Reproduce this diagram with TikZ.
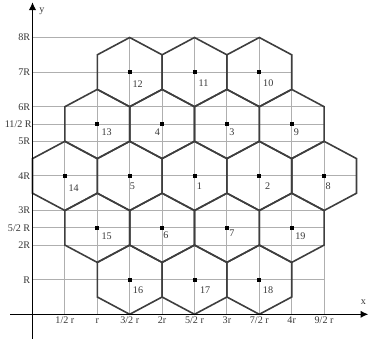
\documentclass[tikz,border=0pt]{standalone}
\usepackage{fontspec}
\setmainfont{Liberation Serif}
\usetikzlibrary{arrows.meta}

\begin{document}
\begin{tikzpicture}[x=0.75pt,y=0.75pt,yscale=-1,xscale=1,
  gridline/.style={color={rgb, 255:red, 175; green, 175; blue, 175 },line width=0.65},
  hexline/.style={color={rgb, 255:red, 62; green, 62; blue, 62 },line width=1.2},
  axisline/.style={color=black,line width=1.2,-{Latex[length=6pt,width=5.6pt]}},
  celldot/.style={rectangle,fill=black,inner sep=0pt,minimum size=3pt},
  celltxt/.style={inner sep=0pt,text height=5pt,text depth=0pt,font=\fontsize{7.6}{9}\selectfont,text={rgb, 255:red, 55; green, 55; blue, 55 }},
  ticktxt/.style={celltxt,anchor=north},
  rtxt/.style={celltxt,anchor=east}]
\useasboundingbox (0,0) rectangle (370,343);

%Grid Lines: horizontal
\draw [gridline] (32.5,37.5) -- (259.3,37.5) ;
\draw [gridline] (32.5,72.1) -- (291.7,72.1) ;
\draw [gridline] (32.5,106.7) -- (324.1,106.7) ;
\draw [gridline] (32.5,124.0) -- (324.1,124.0) ;
\draw [gridline] (32.5,141.3) -- (324.1,141.3) ;
\draw [gridline] (32.5,175.9) -- (356.5,175.9) ;
\draw [gridline] (32.5,210.5) -- (324.1,210.5) ;
\draw [gridline] (32.5,227.8) -- (324.1,227.8) ;
\draw [gridline] (32.5,245.1) -- (324.1,245.1) ;
\draw [gridline] (32.5,279.7) -- (324.1,279.7) ;
%Grid Lines: vertical
\draw [gridline] (64.9,314.3) -- (64.9,106.7) ;
\draw [gridline] (97.3,314.3) -- (97.3,54.8) ;
\draw [gridline] (129.7,314.3) -- (129.7,37.5) ;
\draw [gridline] (162.1,314.3) -- (162.1,54.8) ;
\draw [gridline] (194.5,314.3) -- (194.5,37.5) ;
\draw [gridline] (226.9,314.3) -- (226.9,54.8) ;
\draw [gridline] (259.3,314.3) -- (259.3,37.5) ;
\draw [gridline] (291.7,314.3) -- (291.7,54.8) ;
\draw [gridline] (324.1,314.3) -- (324.1,106.7) ;

%Shape: Hexagon 12
\draw [hexline] (129.7,37.5) -- (162.1,54.8) -- (162.1,89.4) -- (129.7,106.7) -- (97.3,89.4) -- (97.3,54.8) -- cycle ;
%Shape: Hexagon 11
\draw [hexline] (194.5,37.5) -- (226.9,54.8) -- (226.9,89.4) -- (194.5,106.7) -- (162.1,89.4) -- (162.1,54.8) -- cycle ;
%Shape: Hexagon 10
\draw [hexline] (259.3,37.5) -- (291.7,54.8) -- (291.7,89.4) -- (259.3,106.7) -- (226.9,89.4) -- (226.9,54.8) -- cycle ;
%Shape: Hexagon 13
\draw [hexline] (97.3,89.4) -- (129.7,106.7) -- (129.7,141.3) -- (97.3,158.6) -- (64.9,141.3) -- (64.9,106.7) -- cycle ;
%Shape: Hexagon 4
\draw [hexline] (162.1,89.4) -- (194.5,106.7) -- (194.5,141.3) -- (162.1,158.6) -- (129.7,141.3) -- (129.7,106.7) -- cycle ;
%Shape: Hexagon 3
\draw [hexline] (226.9,89.4) -- (259.3,106.7) -- (259.3,141.3) -- (226.9,158.6) -- (194.5,141.3) -- (194.5,106.7) -- cycle ;
%Shape: Hexagon 9
\draw [hexline] (291.7,89.4) -- (324.1,106.7) -- (324.1,141.3) -- (291.7,158.6) -- (259.3,141.3) -- (259.3,106.7) -- cycle ;
%Shape: Hexagon 14
\draw [hexline] (64.9,141.3) -- (97.3,158.6) -- (97.3,193.2) -- (64.9,210.5) -- (32.5,193.2) -- (32.5,158.6) -- cycle ;
%Shape: Hexagon 5
\draw [hexline] (129.7,141.3) -- (162.1,158.6) -- (162.1,193.2) -- (129.7,210.5) -- (97.3,193.2) -- (97.3,158.6) -- cycle ;
%Shape: Hexagon 1
\draw [hexline] (194.5,141.3) -- (226.9,158.6) -- (226.9,193.2) -- (194.5,210.5) -- (162.1,193.2) -- (162.1,158.6) -- cycle ;
%Shape: Hexagon 2
\draw [hexline] (259.3,141.3) -- (291.7,158.6) -- (291.7,193.2) -- (259.3,210.5) -- (226.9,193.2) -- (226.9,158.6) -- cycle ;
%Shape: Hexagon 8
\draw [hexline] (324.1,141.3) -- (356.5,158.6) -- (356.5,193.2) -- (324.1,210.5) -- (291.7,193.2) -- (291.7,158.6) -- cycle ;
%Shape: Hexagon 15
\draw [hexline] (97.3,193.2) -- (129.7,210.5) -- (129.7,245.1) -- (97.3,262.4) -- (64.9,245.1) -- (64.9,210.5) -- cycle ;
%Shape: Hexagon 6
\draw [hexline] (162.1,193.2) -- (194.5,210.5) -- (194.5,245.1) -- (162.1,262.4) -- (129.7,245.1) -- (129.7,210.5) -- cycle ;
%Shape: Hexagon 7
\draw [hexline] (226.9,193.2) -- (259.3,210.5) -- (259.3,245.1) -- (226.9,262.4) -- (194.5,245.1) -- (194.5,210.5) -- cycle ;
%Shape: Hexagon 19
\draw [hexline] (291.7,193.2) -- (324.1,210.5) -- (324.1,245.1) -- (291.7,262.4) -- (259.3,245.1) -- (259.3,210.5) -- cycle ;
%Shape: Hexagon 16
\draw [hexline] (129.7,245.1) -- (162.1,262.4) -- (162.1,297.0) -- (129.7,314.3) -- (97.3,297.0) -- (97.3,262.4) -- cycle ;
%Shape: Hexagon 17
\draw [hexline] (194.5,245.1) -- (226.9,262.4) -- (226.9,297.0) -- (194.5,314.3) -- (162.1,297.0) -- (162.1,262.4) -- cycle ;
%Shape: Hexagon 18
\draw [hexline] (259.3,245.1) -- (291.7,262.4) -- (291.7,297.0) -- (259.3,314.3) -- (226.9,297.0) -- (226.9,262.4) -- cycle ;

%Axes
\coordinate (ybot) at (32.5,338.5) ;
\coordinate (ytop) at (32.5,2) ;
\coordinate (xleft) at (10,314.3) ;
\coordinate (xright) at (368.5,314.3) ;
\draw [axisline] (ybot) -- (ytop) ;
\draw [axisline] (xleft) -- (xright) ;
% Text Node
\node (ylab) [celltxt] at (42,9.5) {y} ;
% Text Node
\node (xlab) [celltxt] at (363.5,301.5) {x} ;

%Cell Centres
\node (c12) [celldot] at (129.7,72.1) {} ;
\node (c11) [celldot] at (194.5,72.1) {} ;
\node (c10) [celldot] at (259.3,72.1) {} ;
\node (c13) [celldot] at (97.3,124.0) {} ;
\node (c4) [celldot] at (162.1,124.0) {} ;
\node (c3) [celldot] at (226.9,124.0) {} ;
\node (c9) [celldot] at (291.7,124.0) {} ;
\node (c14) [celldot] at (64.9,175.9) {} ;
\node (c5) [celldot] at (129.7,175.9) {} ;
\node (c1) [celldot] at (194.5,175.9) {} ;
\node (c2) [celldot] at (259.3,175.9) {} ;
\node (c8) [celldot] at (324.1,175.9) {} ;
\node (c15) [celldot] at (97.3,227.8) {} ;
\node (c6) [celldot] at (162.1,227.8) {} ;
\node (c7) [celldot] at (226.9,227.8) {} ;
\node (c19) [celldot] at (291.7,227.8) {} ;
\node (c16) [celldot] at (129.7,279.7) {} ;
\node (c17) [celldot] at (194.5,279.7) {} ;
\node (c18) [celldot] at (259.3,279.7) {} ;

% Text Node: cell numbers
\node (n12) [celltxt] at (137.7,84.1) {12} ;
\node (n11) [celltxt] at (203.5,83.1) {11} ;
\node (n10) [celltxt] at (268.3,83.1) {10} ;
\node (n13) [celltxt] at (106.7,132.3) {13} ;
\node (n4) [celltxt] at (157.4,132.3) {4} ;
\node (n3) [celltxt] at (231.9,132.3) {3} ;
\node (n9) [celltxt] at (296.4,131.7) {9} ;
\node (n14) [celltxt] at (73.6,188.5) {14} ;
\node (n5) [celltxt] at (132.4,185.9) {5} ;
\node (n1) [celltxt] at (199.5,185.9) {1} ;
\node (n2) [celltxt] at (267.7,185.9) {2} ;
\node (n8) [celltxt] at (328.1,185.9) {8} ;
\node (n15) [celltxt] at (106.7,236.2) {15} ;
\node (n6) [celltxt] at (165.8,234.8) {6} ;
\node (n7) [celltxt] at (231.9,232.8) {7} ;
\node (n19) [celltxt] at (300.4,236.2) {19} ;
\node (n16) [celltxt] at (138,289.7) {16} ;
\node (n17) [celltxt] at (205.2,289.7) {17} ;
\node (n18) [celltxt] at (268,289.7) {18} ;

% Text Node: y ticks
\node (r8) [rtxt] at (30.5,37.5) {8R} ;
\node (r7) [rtxt] at (30.5,72.1) {7R} ;
\node (r6) [rtxt] at (30.5,106.7) {6R} ;
\node (r55) [rtxt] at (32,124.0) {11/2 R} ;
\node (r5) [rtxt] at (30.5,141.3) {5R} ;
\node (r4) [rtxt] at (30.5,175.9) {4R} ;
\node (r3) [rtxt] at (30.5,210.5) {3R} ;
\node (r25) [rtxt] at (30.5,227.8) {5/2 R} ;
\node (r2) [rtxt] at (30.5,245.1) {2R} ;
\node (r1) [rtxt] at (30.5,279.7) {R} ;

% Text Node: x ticks
\node (x1) [ticktxt] at (64.9,317) {1/2 r} ;
\node (x2) [ticktxt] at (97.3,317) {r} ;
\node (x3) [ticktxt] at (129.7,317) {3/2 r} ;
\node (x4) [ticktxt] at (162.1,317) {2r} ;
\node (x5) [ticktxt] at (194.5,317) {5/2 r} ;
\node (x6) [ticktxt] at (226.9,317) {3r} ;
\node (x7) [ticktxt] at (259.3,317) {7/2 r} ;
\node (x8) [ticktxt] at (291.7,317) {4r} ;
\node (x9) [ticktxt] at (324.1,317) {9/2 r} ;

\end{tikzpicture}
\end{document}
